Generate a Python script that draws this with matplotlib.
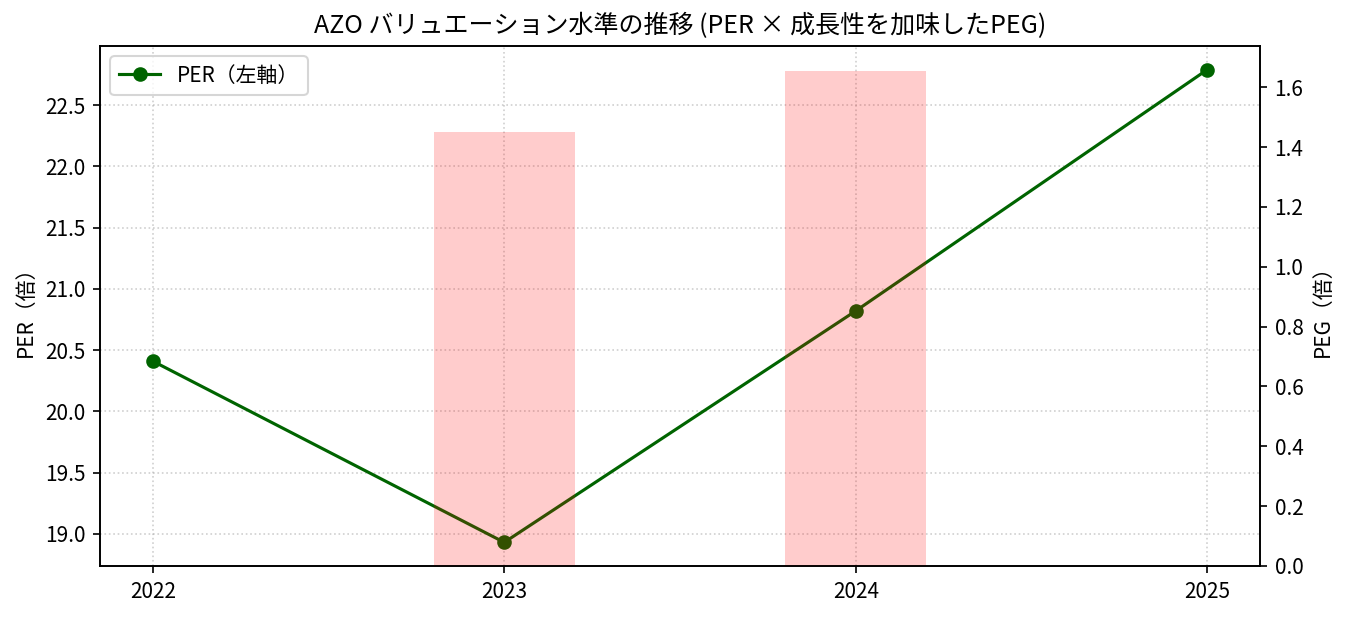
import matplotlib
matplotlib.use("Agg")
import matplotlib.pyplot as plt
import numpy as np

plt.rcParams['font.family'] = ['Noto Sans CJK JP', 'DejaVu Sans']

years = ["2022", "2023", "2024", "2025"]
per = [20.41, 18.93, 20.82, 22.79]
peg = [np.nan, 1.45, 1.655, np.nan]

fig = plt.figure(figsize=(1351/150, 617/150), dpi=150)
ax1 = fig.add_axes([100/1351, 1-566/617, (1260-100)/1351, (566-46)/617])
x = np.arange(len(years))
ax1.plot(x, per, color='darkgreen', marker='o', label='PER（左軸）')
ax1.set_ylabel('PER（倍）')
ax1.set_xticks(x)
ax1.set_xticklabels(years)
ax1.grid(True, linestyle=':', alpha=0.6)

ax2 = ax1.twinx()
peg_arr = np.array(peg)
mask = ~np.isnan(peg_arr)
ax2.bar(x[mask], peg_arr[mask], width=0.4, color='red', alpha=0.2, label='PEG（右軸）')
ax2.set_ylabel('PEG（倍）')
ax2.set_ylim(0, None)
ax1.set_xlim(-0.15, 3.15)

ax1.legend(loc='upper left')
ax1.set_title('AZO バリュエーション水準の推移 (PER × 成長性を加味したPEG)', fontsize=12)

fig.savefig('out.png', dpi=150)
